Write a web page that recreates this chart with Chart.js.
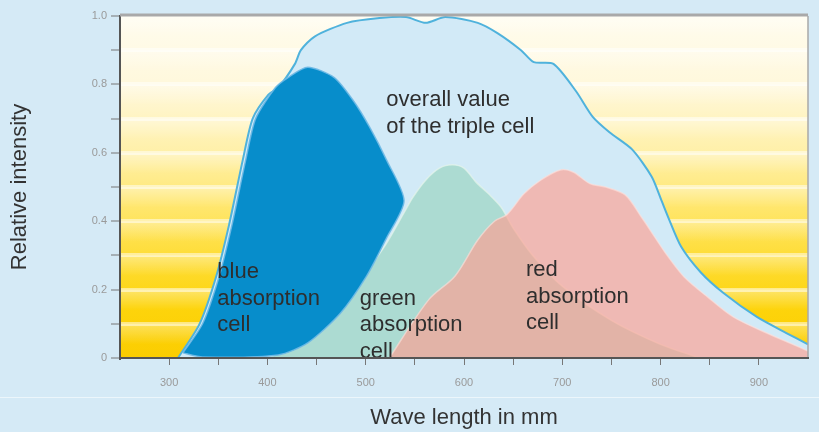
<!DOCTYPE html>
<html>
<head>
<meta charset="utf-8">
<script src="https://cdn.jsdelivr.net/npm/chart.js@4.4.1/dist/chart.umd.min.js"></script>
<style>
  html, body { margin: 0; padding: 0; background: #d5eaf6; }
  canvas { display: block; }
</style>
</head>
<body>
<canvas id="spectrum" width="819" height="432"></canvas>
<script>
// wavelength (x) and relative intensity (y)
const overallWave  = [309, 331, 348, 361, 375, 385, 401, 411, 428, 434, 448, 481, 514, 541, 561, 581, 614, 634, 658, 671, 691, 714, 731, 748, 771, 791, 801, 808, 821, 841, 864, 898, 928, 950];
const overallValue = [0, 0.10, 0.24, 0.39, 0.58, 0.70, 0.77, 0.79, 0.86, 0.90, 0.94, 0.98, 0.994, 0.997, 0.98, 0.997, 0.98, 0.95, 0.90, 0.865, 0.86, 0.78, 0.705, 0.66, 0.61, 0.53, 0.46, 0.41, 0.325, 0.25, 0.19, 0.12, 0.073, 0.04];

// blue cell is traced as a closed outline (it leans over to the right)
const blueWave  = [314, 334, 351, 364, 378, 388, 408, 421, 441, 468, 488, 504, 521, 539, 521, 501, 474, 441, 411, 334, 314];
const blueValue = [0.015, 0.10, 0.24, 0.39, 0.58, 0.70, 0.79, 0.82, 0.85, 0.82, 0.75, 0.675, 0.58, 0.46, 0.35, 0.24, 0.13, 0.044, 0.009, 0.003, 0.015];

const greenWave  = [400, 430, 460, 490, 520, 540, 548, 561, 575, 588, 600, 612, 625, 638, 650, 670, 700, 750, 800, 840];
const greenValue = [0, 0.04, 0.11, 0.21, 0.33, 0.43, 0.47, 0.52, 0.555, 0.565, 0.555, 0.515, 0.48, 0.44, 0.38, 0.30, 0.21, 0.11, 0.04, 0];

const redWave  = [524, 564, 591, 614, 631, 644, 661, 678, 698, 711, 728, 744, 764, 781, 794, 808, 824, 848, 874, 908, 941, 950];
const redValue = [0, 0.17, 0.24, 0.345, 0.40, 0.42, 0.48, 0.52, 0.55, 0.544, 0.51, 0.50, 0.477, 0.41, 0.354, 0.295, 0.237, 0.178, 0.12, 0.073, 0.032, 0.02];

const xTickLabels = [300, 400, 500, 600, 700, 800, 900];
const yTickLabels = ['0', '0.2', '0.4', '0.6', '0.8', '1.0'];

const notes = [
  { wave: 521, value: 0.754, lines: ['overall value', 'of the triple cell'] },
  { wave: 349, value: 0.251, lines: ['blue', 'absorption', 'cell'] },
  { wave: 494, value: 0.173, lines: ['green', 'absorption', 'cell'] },
  { wave: 663, value: 0.257, lines: ['red', 'absorption', 'cell'] }
];

const FONT = "'Liberation Sans', Arial, Helvetica, sans-serif";
Chart.defaults.font.family = FONT;

const points = (xs, ys) => xs.map((x, i) => ({ x: x, y: ys[i] }));

// yellow "sunlight" backdrop with soft bands
const sunBackground = {
  id: 'sunBackground',
  beforeDraw(chart) {
    const { ctx, chartArea: a, scales: { y } } = chart;
    ctx.save();
    const g = ctx.createLinearGradient(0, a.top, 0, a.bottom);
    g.addColorStop(0, '#fffcee');
    g.addColorStop(0.2, '#fff8dc');
    g.addColorStop(0.4, '#fff0a8');
    g.addColorStop(0.55, '#ffe770');
    g.addColorStop(0.7, '#fedd38');
    g.addColorStop(0.85, '#fdd40c');
    g.addColorStop(1, '#fbcd00');
    ctx.fillStyle = g;
    ctx.fillRect(a.left, a.top, a.right - a.left, a.bottom - a.top);
    for (let k = 0; k < 10; k++) {
      const top = y.getPixelForValue((k + 1) / 10);
      const bottom = y.getPixelForValue(k / 10);
      const bg = ctx.createLinearGradient(0, top, 0, bottom);
      bg.addColorStop(0, 'rgba(255,255,255,0.35)');
      bg.addColorStop(0.6, 'rgba(255,255,255,0)');
      ctx.fillStyle = bg;
      ctx.fillRect(a.left, top, a.right - a.left, bottom - top);
    }
    ctx.restore();
  }
};

const frame = {
  id: 'frame',
  afterDatasetsDraw(chart) {
    const { ctx, chartArea: a } = chart;
    ctx.save();
    ctx.strokeStyle = '#a9a9a9';
    ctx.lineWidth = 3;
    ctx.beginPath();
    ctx.moveTo(a.left, a.top - 1);
    ctx.lineTo(a.right, a.top - 1);
    ctx.stroke();
    ctx.lineWidth = 1.5;
    ctx.beginPath();
    ctx.moveTo(a.right, a.top);
    ctx.lineTo(a.right, a.bottom);
    ctx.stroke();
    // faint divider above the axis title
    ctx.strokeStyle = 'rgba(255,255,255,0.55)';
    ctx.lineWidth = 1;
    ctx.beginPath();
    ctx.moveTo(0, 397.5);
    ctx.lineTo(chart.width, 397.5);
    ctx.stroke();

    // cell labels
    const { x, y } = chart.scales;
    ctx.fillStyle = '#2e2e2e';
    ctx.font = '22px ' + FONT;
    ctx.textAlign = 'left';
    ctx.textBaseline = 'middle';
    notes.forEach(n => {
      const px = x.getPixelForValue(n.wave);
      const py = y.getPixelForValue(n.value);
      n.lines.forEach((t, i) => ctx.fillText(t, px, py + i * 26.5));
    });
    ctx.restore();
  }
};

const data = {
  datasets: [
    {
      label: 'blue absorption cell',
      data: points(blueWave, blueValue),
      backgroundColor: '#078dcb',
      borderColor: 'rgba(110,185,230,0.9)',
      borderWidth: 1.5,
      fill: 'shape',
      tension: 0.25,
      order: 0
    },
    {
      label: 'red absorption cell',
      data: points(redWave, redValue),
      backgroundColor: 'rgba(255,158,144,0.65)',
      borderColor: 'rgba(255,225,220,0.6)',
      borderWidth: 1.5,
      fill: 'origin',
      tension: 0.3,
      order: 1
    },
    {
      label: 'green absorption cell',
      data: points(greenWave, greenValue),
      backgroundColor: 'rgba(140,205,180,0.55)',
      borderColor: 'rgba(230,245,235,0.7)',
      borderWidth: 1.5,
      fill: 'origin',
      tension: 0.3,
      order: 2
    },
    {
      label: 'overall value of the triple cell',
      data: points(overallWave, overallValue),
      backgroundColor: '#d2eaf7',
      borderColor: '#4fb2dc',
      borderWidth: 2,
      fill: 'origin',
      tension: 0.25,
      order: 3
    }
  ]
};

const config = {
  type: 'line',
  data: data,
  options: {
    responsive: false,
    animation: false,
    layout: { padding: { top: 16, right: 2, left: 0, bottom: 0 } },
    elements: { point: { radius: 0 } },
    plugins: {
      legend: { display: false },
      tooltip: { enabled: false }
    },
    scales: {
      x: {
        type: 'linear',
        min: 250,
        max: 950,
        afterFit(s) { s.height = 74; },
        ticks: {
          stepSize: 50,
          autoSkip: false,
          maxRotation: 0,
          padding: 11,
          color: '#9a9a9a',
          font: { size: 11 },
          callback: v => xTickLabels.includes(v) ? String(v) : ''
        },
        grid: {
          drawOnChartArea: false,
          tickLength: 7,
          tickWidth: 1,
          tickColor: c => (c.tick && c.tick.value >= 300 && c.tick.value <= 900) ? '#777' : 'rgba(0,0,0,0)'
        },
        border: { color: '#555', width: 2, z: 1 },
        title: {
          display: true,
          text: 'Wave length in mm',
          color: '#333',
          font: { size: 22 },
          padding: { top: 0, bottom: 1 }
        }
      },
      y: {
        min: 0,
        max: 1,
        afterFit(s) { s.width = 120; },
        ticks: {
          stepSize: 0.1,
          padding: 4,
          color: '#9a9a9a',
          font: { size: 11 },
          callback: v => {
            const k = Math.round(v * 10);
            return k % 2 === 0 ? yTickLabels[k / 2] : '';
          }
        },
        grid: {
          lineWidth: 4,
          tickLength: 9,
          tickWidth: 1,
          tickColor: '#777',
          color: c => {
            const k = Math.round(c.tick.value * 10);
            return (k === 0 || k === 10) ? 'rgba(0,0,0,0)' : 'rgba(255,255,255,0.5)';
          }
        },
        border: { color: '#555', width: 2 },
        title: {
          display: true,
          text: 'Relative intensity',
          color: '#333',
          font: { size: 22 },
          padding: { top: 7, bottom: 0 }
        }
      }
    }
  },
  plugins: [sunBackground, frame]
};

const spectrum = new Chart(document.getElementById('spectrum'), config);
</script>
</body>
</html>
